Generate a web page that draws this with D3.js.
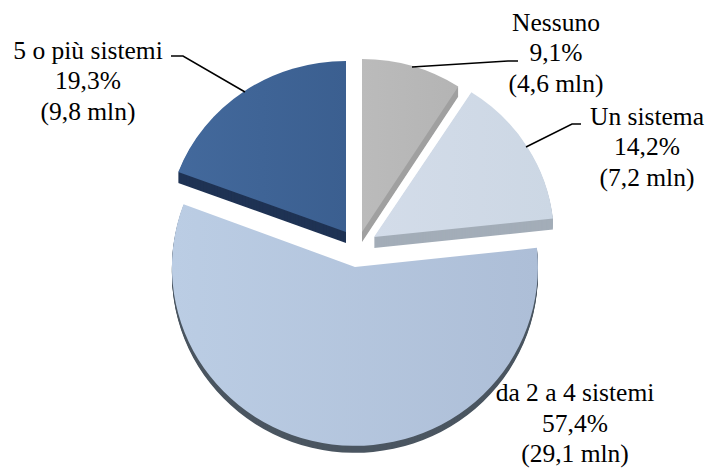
<!DOCTYPE html>
<html>
<head>
<meta charset="utf-8">
<script src="https://cdn.jsdelivr.net/npm/d3@7"></script>
<style>
  html, body { margin: 0; padding: 0; background: #fff; }
  svg { display: block; }
  text { font-family: "Liberation Serif", serif; font-size: 25.5px; fill: #000; text-anchor: middle; }
</style>
</head>
<body>
<div id="chart"></div>
<script>
const categories = ["Nessuno", "Un sistema", "da 2 a 4 sistemi", "5 o più sistemi"];
const shares = [9.1, 14.2, 57.4, 19.3];
const millions = ["4,6", "7,2", "29,1", "9,8"];

const colorsLight = ["#bbbbbb", "#d3dce9", "#bbcde4", "#43699c"];
const colorsDark = ["#b4b4b4", "#ccd7e4", "#adbed7", "#3b5f90"];
const colorsSide = ["#a0a0a0", "#a3adb8", "#4b5661", "#1f3354"];

// exploded position of each slice, and its vertical radius / side depth
const centres = [[362, 232], [374, 237], [355, 267], [346, 232]];
const radiiX = [178, 180, 183, 179];
const radiiY = [173, 172, 179, 171];
const depths = [10, 11, 7, 11];

const labelX = [556, 647, 575, 88];
const labelY = [30.5, 124.5, 401, 58.5];
const lineGap = 30.5;
const leaders = [
  [[412, 67], [508, 61], [518, 61]],
  [[526, 147], [572, 124], [581, 124]],
  null,
  [[245, 92], [183, 56], [171, 56]]
];

const width = 707, height = 468;
const svg = d3.select("#chart").append("svg").attr("width", width).attr("height", height);
const defs = svg.append("defs");

const pie = d3.pie().sort(null);
const arcs = pie(shares);
const arc = d3.arc().innerRadius(0).outerRadius(1);

categories.forEach((c, i) => {
  const g = defs.append("linearGradient").attr("id", "grad" + i)
    .attr("gradientUnits", "objectBoundingBox");
  g.append("stop").attr("offset", "0%").attr("stop-color", colorsLight[i]);
  g.append("stop").attr("offset", "100%").attr("stop-color", colorsDark[i]);
});

// side first, so the faces of the slices sit on top
arcs.forEach((d, i) => {
  const g = svg.append("g");
  for (let k = depths[i]; k >= 1; k--) {
    g.append("path")
      .attr("d", arc(d))
      .attr("transform", `translate(${centres[i][0]},${centres[i][1] + k}) scale(${radiiX[i]},${radiiY[i]})`)
      .attr("fill", colorsSide[i]);
  }
  g.append("path")
    .attr("d", arc(d))
    .attr("transform", `translate(${centres[i][0]},${centres[i][1]}) scale(${radiiX[i]},${radiiY[i]})`)
    .attr("fill", `url(#grad${i})`);
});

const line = d3.line();
leaders.forEach(pts => {
  if (!pts) return;
  svg.append("path").attr("d", line(pts)).attr("fill", "none").attr("stroke", "#000").attr("stroke-width", 1.5);
});

categories.forEach((c, i) => {
  const t = svg.append("text").attr("x", labelX[i]).attr("y", labelY[i]);
  [c, String(shares[i]).replace(".", ",") + "%", `(${millions[i]} mln)`].forEach((s, j) => {
    t.append("tspan").attr("x", labelX[i]).attr("y", labelY[i] + j * lineGap).text(s);
  });
});
</script>
</body>
</html>
